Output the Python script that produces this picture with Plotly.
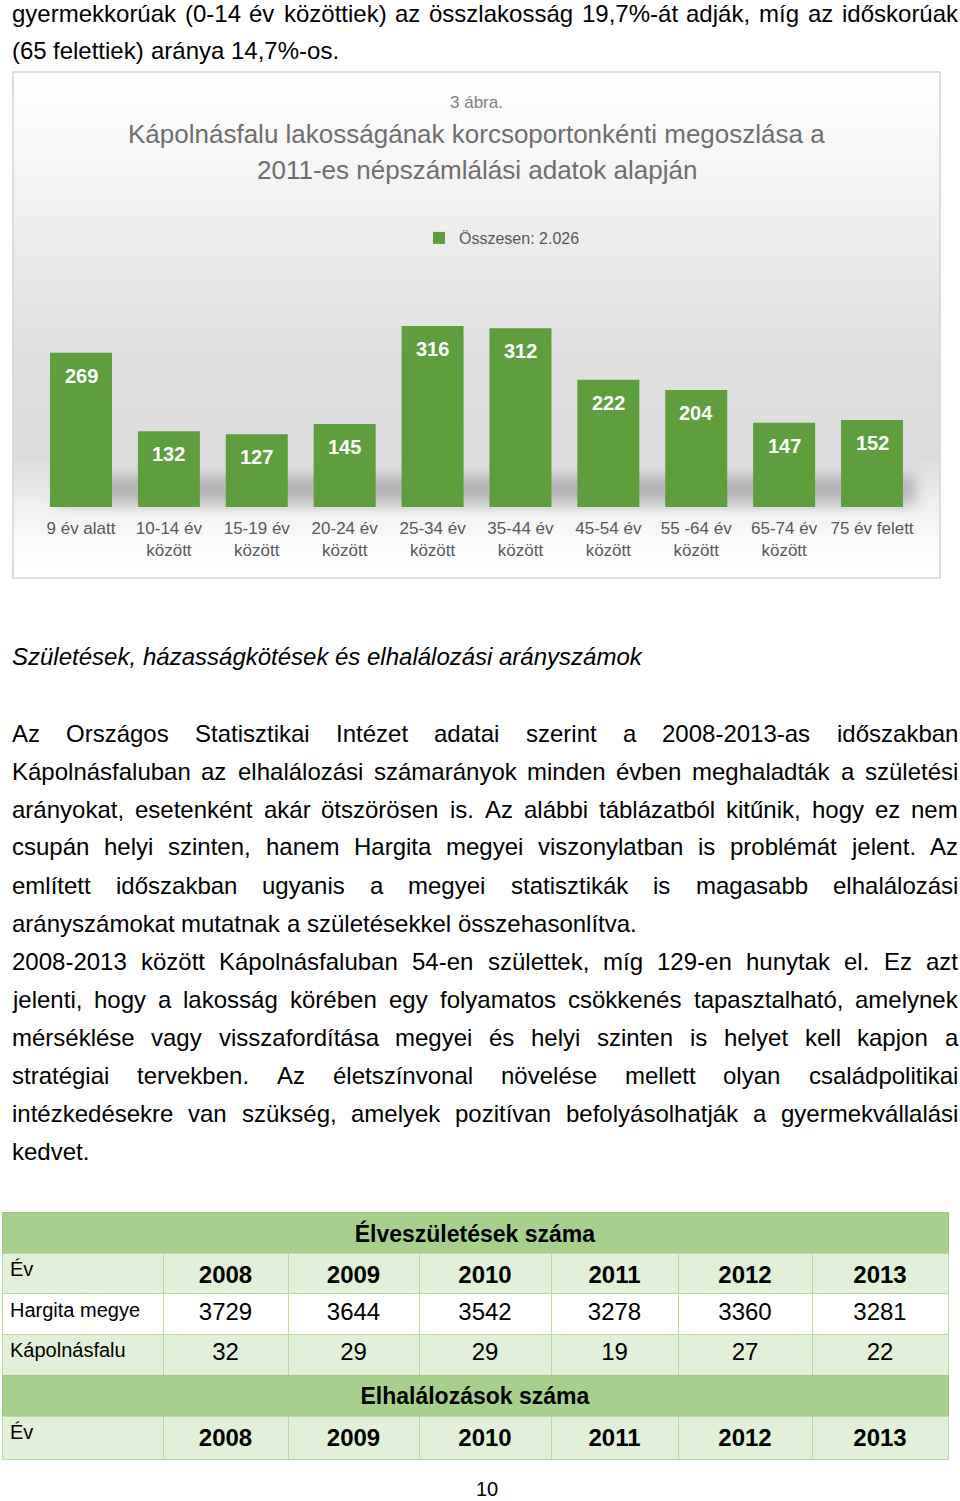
import base64
import plotly.graph_objects as go

# ---------------- data ----------------
age_groups = ["9 év alatt", "10-14 év<br>között", "15-19 év<br>között", "20-24 év<br>között",
              "25-34 év<br>között", "35-44 év<br>között", "45-54 év<br>között", "55 -64 év<br>között",
              "65-74 év<br>között", "75 év felett"]
population = [269, 132, 127, 145, 316, 312, 222, 204, 147, 152]
series_name = "Összesen: 2.026"
chart_caption = "3 ábra."
chart_title = ["Kápolnásfalu lakosságának korcsoportonkénti megoszlása a",
               "2011-es népszámlálási adatok alapján"]

years = ["2008", "2009", "2010", "2011", "2012", "2013"]
births_hargita = [3729, 3644, 3542, 3278, 3360, 3281]
births_kapolnasfalu = [32, 29, 29, 19, 27, 22]
table_births_title = "Élveszületések száma"
table_deaths_title = "Elhalálozások száma"
row_labels = ["Év", "Hargita megye", "Kápolnásfalu"]

para1 = ["gyermekkorúak (0-14 év közöttiek) az összlakosság 19,7%-át adják, míg az időskorúak",
         "(65 felettiek) aránya 14,7%-os."]
heading = "Születések, házasságkötések és elhalálozási arányszámok"
para2 = ["Az Országos Statisztikai Intézet adatai szerint a 2008-2013-as időszakban",
         "Kápolnásfaluban az elhalálozási számarányok minden évben meghaladták a születési",
         "arányokat, esetenként akár ötszörösen is. Az alábbi táblázatból kitűnik, hogy ez nem",
         "csupán helyi szinten, hanem Hargita megyei viszonylatban is problémát jelent. Az",
         "említett időszakban ugyanis a megyei statisztikák is magasabb elhalálozási",
         "arányszámokat mutatnak a születésekkel összehasonlítva."]
para3 = ["2008-2013 között Kápolnásfaluban 54-en születtek, míg 129-en hunytak el. Ez azt",
         "jelenti, hogy a lakosság körében egy folyamatos csökkenés tapasztalható, amelynek",
         "mérséklése vagy visszafordítása megyei és helyi szinten is helyet kell kapjon a",
         "stratégiai tervekben. Az életszínvonal növelése mellett olyan családpolitikai",
         "intézkedésekre van szükség, amelyek pozitívan befolyásolhatják a gyermekvállalási",
         "kedvet."]
page_number = "10"

# ---------------- page geometry ----------------
W, H = 960, 1501
def px(x):
    return x / W
def py(y):
    return 1 - y / H

BODY_FONT = "Liberation Sans, Arial, sans-serif"
BODY_SIZE = 24
GREEN = "#5E9E3C"
GREY = "#595959"

# Arial / Liberation Sans advance widths (1/1000 em)
AW = {" ": 278, ",": 278, ".": 278, "-": 333, "(": 333, ")": 333, "%": 889, ":": 278}
AW.update({c: 556 for c in "0123456789"})
AW.update(dict(zip("abcdefghijklmnopqrstuvwxyz",
                   [556, 556, 500, 556, 556, 278, 556, 556, 222, 222, 500, 222, 833, 556, 556, 556,
                    556, 333, 500, 278, 556, 500, 722, 500, 500, 500])))
AW.update(dict(zip("ABCDEFGHIJKLMNOPQRSTUVWXYZ",
                   [667, 667, 722, 722, 667, 611, 778, 722, 278, 500, 667, 556, 833, 722, 778, 667,
                    778, 722, 667, 611, 722, 667, 944, 667, 667, 611])))
AW.update({"á": 556, "é": 556, "í": 278, "ó": 556, "ö": 556, "ő": 556, "ú": 556, "ü": 556, "ű": 556,
           "Á": 667, "É": 667, "Í": 278, "Ó": 778, "Ö": 778, "Ő": 778, "Ú": 722, "Ü": 722, "Ű": 722})

def text_width(s, size):
    return sum(AW.get(c, 556) for c in s) * size / 1000.0

LEFT, RIGHT = 12, 958

annotations = []

def add_line(text, y, justify, italic=False):
    words = text.split(" ")
    widths = [text_width(w, BODY_SIZE) for w in words]
    space = AW[" "] * BODY_SIZE / 1000.0
    if justify and len(words) > 1:
        gap = (RIGHT - LEFT - sum(widths)) / (len(words) - 1)
        gap = max(gap, space * 0.5)
    else:
        gap = space
    x = LEFT
    for w, wd in zip(words, widths):
        t = f"<i>{w}</i>" if italic else w
        annotations.append(dict(text=t, x=px(x), y=py(y), xref="paper", yref="paper",
                                xanchor="left", yanchor="middle", showarrow=False,
                                borderpad=0, borderwidth=0,
                                font=dict(family=BODY_FONT, size=BODY_SIZE, color="#000000")))
        x += wd + gap

def add_paragraph(lines, y0, step=38.0):
    for i, ln in enumerate(lines):
        add_line(ln, y0 + i * step, justify=(i < len(lines) - 1))

add_paragraph(para1, 14, step=37)
add_line(heading, 656, justify=False, italic=True)
add_paragraph(para2, 733)
add_paragraph(para3, 961)

annotations.append(dict(text=page_number, x=px(487), y=py(1489), xref="paper", yref="paper",
                        xanchor="center", yanchor="middle", borderpad=0,
                        showarrow=False, font=dict(family=BODY_FONT, size=20, color="#000000")))

# ---------------- chart ----------------
BOX_L, BOX_R, BOX_T, BOX_B = 13, 940, 72, 578
ZERO_Y = 507
Y_MAX = 350
PX_PER_UNIT = 0.573
TOP_Y = ZERO_Y - Y_MAX * PX_PER_UNIT

annotations.append(dict(text=chart_caption, x=px(476.5), y=py(103), xref="paper", yref="paper",
                        xanchor="center", yanchor="middle",
                        showarrow=False, font=dict(family=BODY_FONT, size=17, color="#7F7F7F")))
for i, t in enumerate(chart_title):
    annotations.append(dict(text=t, x=px(476.5), y=py(134 + i * 36), xref="paper", yref="paper",
                            xanchor="center", yanchor="middle",
                            showarrow=False, font=dict(family=BODY_FONT, size=26, color="#6E6E6E")))

for cat, v in zip(age_groups, population):
    annotations.append(dict(text=f"<b>{v}</b>", x=cat, y=v, xref="x", yref="y",
                            xanchor="center", yanchor="middle",
                            yshift=-23, showarrow=False,
                            font=dict(family=BODY_FONT, size=20, color="#FFFFFF")))

bw, bh = BOX_R - BOX_L, BOX_B - BOX_T
shadow_top = ZERO_Y - BOX_T - 32
svg = f'''<svg xmlns="http://www.w3.org/2000/svg" width="{bw}" height="{bh}" viewBox="0 0 {bw} {bh}" preserveAspectRatio="none">
<defs>
<linearGradient id="g" x1="0" y1="0" x2="0" y2="1">
<stop offset="0" stop-color="#FFFFFF"/>
<stop offset="0.18" stop-color="#F6F6F6"/>
<stop offset="0.35" stop-color="#EBEBEB"/>
<stop offset="0.55" stop-color="#E0E0E0"/>
<stop offset="0.76" stop-color="#DCDCDC"/>
<stop offset="0.86" stop-color="#F0F0F0"/>
<stop offset="0.93" stop-color="#FBFBFB"/>
<stop offset="1" stop-color="#FFFFFF"/>
</linearGradient>
<linearGradient id="bar" x1="0" y1="0" x2="0" y2="1">
<stop offset="0" stop-color="#6CAC47"/>
<stop offset="1" stop-color="#55943A"/>
</linearGradient>
<filter id="b" x="-10%" y="-100%" width="120%" height="300%"><feGaussianBlur stdDeviation="7"/></filter>
</defs>
<rect x="0" y="0" width="{bw}" height="{bh}" fill="url(#g)"/>
<rect x="45" y="{shadow_top}" width="{bw - 70}" height="30" fill="#8C8C8C" opacity="0.55" filter="url(#b)"/>
</svg>'''
svg_uri = "data:image/svg+xml;base64," + base64.b64encode(svg.encode("utf-8")).decode("ascii")

fig = go.Figure()

fig.add_trace(go.Bar(
    x=age_groups, y=population, name=series_name,
    marker=dict(color=GREEN, line=dict(width=0)),
    width=0.705, showlegend=True, hoverinfo="x+y",
))

# ---------------- tables (each row = one header-only table) ----------------
col_w = [161, 125, 131, 132, 127, 134, 136]
TBL_L, TBL_R = 2, 948
ROW_H = 41
HDR_FILL = "#A8D08D"
LIGHT = "#E2EFD9"
LINE = "#B7DB9E"

def merged_row(title, y_top):
    fig.add_trace(go.Table(
        domain=dict(x=[px(TBL_L), px(TBL_R)], y=[py(y_top + ROW_H + 4), py(y_top)]),
        columnwidth=[1],
        header=dict(values=[f"<b>{title}</b>"], fill_color=HDR_FILL, height=ROW_H,
                    align="center", line=dict(color="#9BC77E", width=1),
                    font=dict(family=BODY_FONT, size=23, color="#000000")),
        cells=dict(values=[[]], height=0, line=dict(width=0), fill_color="rgba(0,0,0,0)"),
    ))

def data_row(values, fill, y_top):
    fig.add_trace(go.Table(
        domain=dict(x=[px(TBL_L), px(TBL_R)], y=[py(y_top + ROW_H + 4), py(y_top)]),
        columnwidth=col_w,
        header=dict(values=values, height=ROW_H, fill_color=fill,
                    align=["left"] + ["center"] * 6,
                    line=dict(color=LINE, width=1),
                    font=dict(family=BODY_FONT, size=[20] + [24] * 6, color="#000000")),
        cells=dict(values=[[]] * 7, height=0, line=dict(width=0), fill_color="rgba(0,0,0,0)"),
    ))

year_row = [row_labels[0]] + [f"<b>{y}</b>" for y in years]
harg_row = [row_labels[1]] + [str(v) for v in births_hargita]
kap_row = [row_labels[2]] + [str(v) for v in births_kapolnasfalu]

row_tops = [1212, 1253, 1293.7, 1334.3, 1375, 1416]
merged_row(table_births_title, row_tops[0])
data_row(year_row, LIGHT, row_tops[1])
data_row(harg_row, "#FFFFFF", row_tops[2])
data_row(kap_row, LIGHT, row_tops[3])
merged_row(table_deaths_title, row_tops[4])
data_row(year_row, LIGHT, row_tops[5])

# ---------------- layout ----------------
x_left = 81 - 0.5 * 87.9
x_right = 872 + 0.5 * 87.9
fig.update_layout(
    width=W, height=H,
    margin=dict(l=0, r=0, t=0, b=0),
    paper_bgcolor="#FFFFFF", plot_bgcolor="rgba(0,0,0,0)",
    font=dict(family=BODY_FONT),
    xaxis=dict(domain=[px(x_left), px(x_right)], anchor="y", showgrid=False, showline=False,
               zeroline=False, ticks="", ticklabelstandoff=9,
               tickfont=dict(family=BODY_FONT, size=17, color=GREY), fixedrange=True),
    yaxis=dict(domain=[py(ZERO_Y), py(TOP_Y)], range=[0, Y_MAX], visible=False, fixedrange=True),
    showlegend=True,
    legend=dict(x=px(419), y=py(238), xanchor="left", yanchor="middle", orientation="h",
                bgcolor="rgba(0,0,0,0)", font=dict(family=BODY_FONT, size=16, color=GREY)),
    annotations=annotations,
    images=[dict(source=svg_uri, xref="paper", yref="paper", x=px(BOX_L), y=py(BOX_T),
                 sizex=px(BOX_R) - px(BOX_L), sizey=(BOX_B - BOX_T) / H,
                 xanchor="left", yanchor="top", sizing="stretch", layer="below")],
    shapes=[dict(type="rect", xref="paper", yref="paper", x0=px(BOX_L), x1=px(BOX_R),
                 y0=py(BOX_B), y1=py(BOX_T), line=dict(color="#D4D4D4", width=1.5),
                 fillcolor="rgba(0,0,0,0)", layer="above")],
)

fig.write_html("out.html", config={"displayModeBar": False},
               post_script="document.body.style.margin='0';document.documentElement.style.overflow='hidden';")
